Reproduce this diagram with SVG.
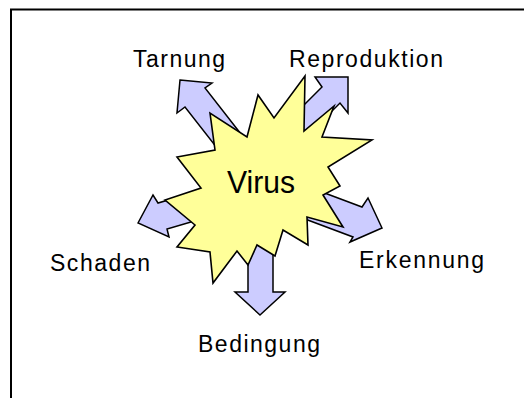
<svg xmlns="http://www.w3.org/2000/svg" width="524" height="398" viewBox="0 0 524 398">
<style>
.arrow{fill:#CCCCFF;stroke:#000;stroke-width:1.5;stroke-linejoin:miter}
.star{fill:#FFFF99;stroke:#000;stroke-width:1.6;stroke-linejoin:miter}
.lbl{font-family:"Liberation Sans",Arial,sans-serif;font-size:23px;fill:#000}
.frame{stroke:#000;stroke-width:2;fill:none}
</style>
<rect width="524" height="398" fill="#fff"/>
<path class="frame" d="M10,9.5 H524 M11,9.5 V398"/>
<g id="connectors">
<polygon id="arrow-tarnung" class="arrow" points="180,80 212,83 205,88 255,152 235,171 185,107 177,113"/>
<polygon id="arrow-reproduktion" class="arrow" points="348,77 348,113 340,103 295,148 277,132 322,87 315,77"/>
<polygon id="arrow-erkennung" class="arrow" points="382,228 350,242 353,237 297,216 306,186 362,207 368,198"/>
<polygon id="arrow-schaden" class="arrow" points="138,223 153,195 158,203 215,186 225,212 167,229 169,237"/>
<polygon id="arrow-bedingung" class="arrow" points="260,315 285,292 273,292 273,230 248,230 248,292 235,292"/>
</g>
<g id="virus">
<polygon class="star" points="305,76 304,131 334,106 322,137 372,140 328,167 340,186 323,195 343,227 307,217 308,245 283,230 275,256 257,245 248,265 237,251 213,283 210,252 177,247 195,225 165,200 201,188 177,157 215,150 210,113 247,137 258,95 274,118"/>
<text class="lbl" x="227" y="193" font-size="32" textLength="68" lengthAdjust="spacingAndGlyphs" style="font-size:32px">Virus</text>
</g>
<g id="tarnung"><text class="lbl" x="133" y="67" textLength="92">Tarnung</text></g>
<g id="reproduktion"><text class="lbl" x="289" y="67" textLength="154">Reproduktion</text></g>
<g id="schaden"><text class="lbl" x="50" y="271" textLength="100">Schaden</text></g>
<g id="erkennung"><text class="lbl" x="359" y="268" textLength="125">Erkennung</text></g>
<g id="bedingung"><text class="lbl" x="198" y="352" textLength="122">Bedingung</text></g>
</svg>
